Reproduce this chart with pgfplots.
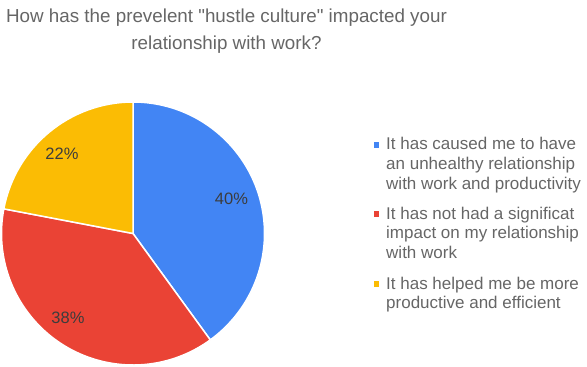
\documentclass[border=0pt]{standalone}
\usepackage{pgfplots}
\pgfplotsset{compat=1.18}
\usepackage{fontspec}
\setmainfont{Liberation Sans}
\definecolor{cblue}{HTML}{4285F4}
\definecolor{cred}{HTML}{EA4335}
\definecolor{cyellow}{HTML}{FBBC04}
\definecolor{ttl}{HTML}{666666}
\definecolor{leg}{HTML}{666666}
\definecolor{lbl}{HTML}{3C3C3C}
% shares (percent)
\def\pA{40}\def\pB{38}\def\pC{22}
\begin{document}
\begin{tikzpicture}
\begin{axis}[x=1pt,y=1pt,xmin=0,xmax=587,ymin=0,ymax=367,
  hide axis, scale only axis, clip=false, anchor=origin, at={(0,0)}]
% pie: center (133,133.5), radius 131.5
\pgfmathsetmacro{\aA}{90}
\pgfmathsetmacro{\aB}{90-\pA*3.6}
\pgfmathsetmacro{\aC}{\aB-\pB*3.6}
\pgfmathsetmacro{\aD}{\aC-\pC*3.6}
\fill[cblue,draw=white,line width=1.5pt,line join=round] (axis cs:133,133.5) -- ++(\aA:131.5pt) arc[start angle=\aA,end angle=\aB,radius=131.5pt] -- cycle;
\fill[cred,draw=white,line width=1.5pt,line join=round] (axis cs:133,133.5) -- ++(\aB:131.5pt) arc[start angle=\aB,end angle=\aC,radius=131.5pt] -- cycle;
\fill[cyellow,draw=white,line width=1.5pt,line join=round] (axis cs:133,133.5) -- ++(\aC:131.5pt) arc[start angle=\aC,end angle=\aD,radius=131.5pt] -- cycle;
% slice labels
\node[font=\fontsize{16.5}{18}\selectfont,text=lbl,anchor=base,inner sep=0pt] at (axis cs:231.5,162.8) {\pA\%};
\node[font=\fontsize{16.5}{18}\selectfont,text=lbl,anchor=base,inner sep=0pt] at (axis cs:68,43.7) {\pB\%};
\node[font=\fontsize{16.5}{18}\selectfont,text=lbl,anchor=base,inner sep=0pt] at (axis cs:62,207.7) {\pC\%};
% title
\node[font=\fontsize{18.8}{27}\selectfont,text=ttl,anchor=base,inner sep=0pt] at (axis cs:226.5,344.5) {How has the prevelent \textquotedbl hustle culture\textquotedbl{} impacted your};
\node[font=\fontsize{18.8}{27}\selectfont,text=ttl,anchor=base,inner sep=0pt] at (axis cs:226.5,317.5) {relationship with work?};
% legend
\fill[cblue] (axis cs:373.8,219.3) rectangle (axis cs:379.3,224.8);
\fill[cred] (axis cs:373.8,150.3) rectangle (axis cs:379.3,155.8);
\fill[cyellow] (axis cs:373.8,80.3) rectangle (axis cs:379.3,85.8);
\begin{scope}[every node/.style={font=\fontsize{17}{19}\selectfont,text=leg,anchor=base west,inner sep=0pt}]
\node at (axis cs:386,217) {It has caused me to have};
\node at (axis cs:386,197) {an unhealthy relationship};
\node at (axis cs:386,177) {with work and productivity};
\node at (axis cs:386,147.5) {It has not had a significat};
\node at (axis cs:386,128) {impact on my relationship};
\node at (axis cs:386,108.5) {with work};
\node at (axis cs:386,77.7) {It has helped me be more};
\node at (axis cs:386,58) {productive and efficient};
\end{scope}
\end{axis}
\pgfresetboundingbox
\path (0,0) rectangle (587pt,367pt);
\end{tikzpicture}
\end{document}
